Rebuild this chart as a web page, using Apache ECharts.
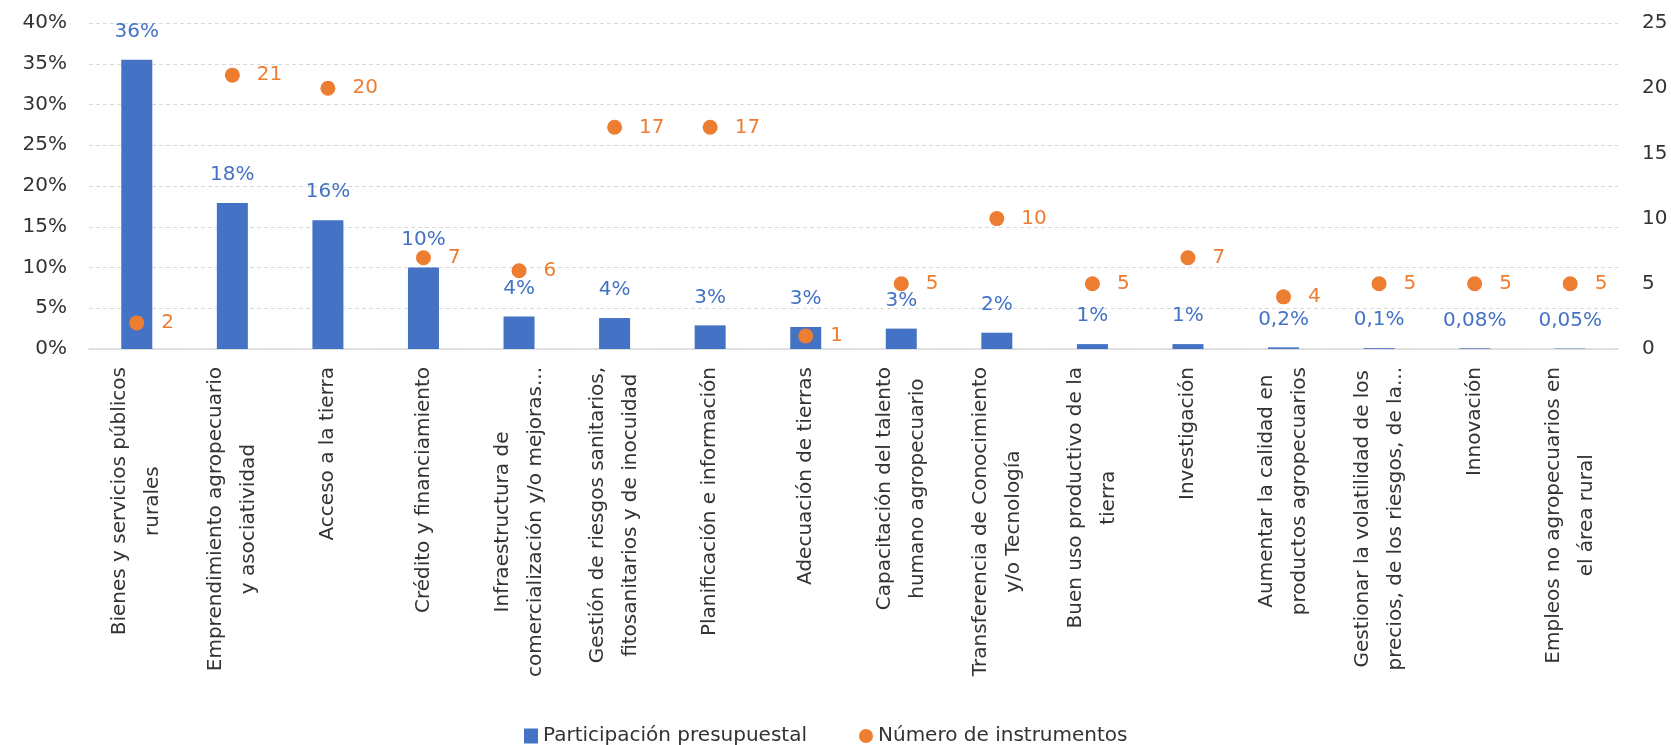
<!DOCTYPE html>
<html>
<head>
<meta charset="utf-8">
<script src="https://cdn.jsdelivr.net/npm/echarts@6/dist/echarts.min.js"></script>
<style>
  html, body { margin: 0; padding: 0; background: #fff; }
  #chart { width: 1671px; height: 745px; }
</style>
</head>
<body>
<div id="chart"></div>
<script>
// categorías (con los saltos de línea del original)
const categories = [
  'Bienes y servicios públicos\nrurales',
  'Emprendimiento agropecuario\ny asociatividad',
  'Acceso a la tierra',
  'Crédito y financiamiento',
  'Infraestructura de\ncomercialización y/o mejoras...',
  'Gestión de riesgos sanitarios,\nfitosanitarios y de inocuidad',
  'Planificación e información',
  'Adecuación de tierras',
  'Capacitación del talento\nhumano agropecuario',
  'Transferencia de Conocimiento\ny/o Tecnología',
  'Buen uso productivo de la\ntierra',
  'Investigación',
  'Aumentar la calidad en\nproductos agropecuarios',
  'Gestionar la volatilidad de los\nprecios, de los riesgos, de la...',
  'Innovación',
  'Empleos no agropecuarios en\nel área rural'
];

// participación presupuestal (%)
const participacion = [35.5, 17.9, 15.8, 10.0, 4.0, 3.8, 2.9, 2.7, 2.5, 2.0, 0.6, 0.6, 0.2, 0.1, 0.08, 0.05];

// número de instrumentos
const instrumentos = [2, 21, 20, 7, 6, 17, 17, 1, 5, 10, 5, 7, 4, 5, 5, 5];

const FONT = 'DejaVu Sans';
const BLUE = '#4472C4';
const ORANGE = '#ED7D31';

// 36% / 0,2% como en el original
const fmtPct = (v) => v >= 0.5 ? Math.round(v) + '%' : String(v).replace('.', ',') + '%';

const chart = echarts.init(document.getElementById('chart'));

chart.setOption({
  animation: false,
  textStyle: { fontFamily: FONT },
  legend: {
    left: 519,
    top: 721,
    itemWidth: 14,
    itemHeight: 15,
    itemGap: 52,
    textStyle: { fontFamily: FONT, fontSize: 20, color: '#333' },
    data: [
      { name: 'Participación presupuestal', icon: 'rect' },
      { name: 'Número de instrumentos', icon: 'circle' }
    ]
  },
  grid: {
    left: 89,
    right: 53,
    top: 23,
    bottom: 396,
    outerBoundsMode: 'none'
  },
  xAxis: {
    type: 'category',
    data: categories,
    axisLine: { lineStyle: { color: '#d9d9d9', width: 1.5 } },
    axisTick: { show: false },
    axisLabel: {
      interval: 0,
      rotate: 90,
      margin: 18,
      color: '#333',
      formatter: (v) => v.split('\n').map((l) => '{c|' + l + '}').join('\n'),
      rich: {
        c: { align: 'center', fontFamily: FONT, fontSize: 20, lineHeight: 33, color: '#333' }
      }
    }
  },
  yAxis: [
    {
      type: 'value',
      min: 0,
      max: 40,
      interval: 5,
      axisLine: { show: false },
      axisTick: { show: false },
      axisLabel: {
        formatter: '{value}%',
        fontFamily: FONT,
        fontSize: 20,
        color: '#333',
        margin: 22
      },
      splitLine: { lineStyle: { color: '#d9d9d9', type: [4, 3], width: 1 } }
    },
    {
      type: 'value',
      min: 0,
      max: 25,
      interval: 5,
      axisLine: { show: false },
      axisTick: { show: false },
      splitLine: { show: false },
      axisLabel: {
        fontFamily: FONT,
        fontSize: 20,
        color: '#333',
        margin: 24
      }
    }
  ],
  series: [
    {
      name: 'Participación presupuestal',
      type: 'bar',
      yAxisIndex: 0,
      barWidth: 31,
      itemStyle: { color: BLUE },
      label: {
        show: true,
        position: 'top',
        distance: 18,
        fontFamily: FONT,
        fontSize: 20,
        color: BLUE,
        formatter: (p) => fmtPct(p.value)
      },
      data: participacion
    },
    {
      name: 'Número de instrumentos',
      type: 'scatter',
      yAxisIndex: 1,
      symbol: 'circle',
      symbolSize: 15,
      itemStyle: { color: ORANGE, opacity: 1 },
      label: {
        show: true,
        position: 'right',
        distance: 17,
        fontFamily: FONT,
        fontSize: 20,
        color: ORANGE
      },
      data: instrumentos
    }
  ]
});
</script>
</body>
</html>
